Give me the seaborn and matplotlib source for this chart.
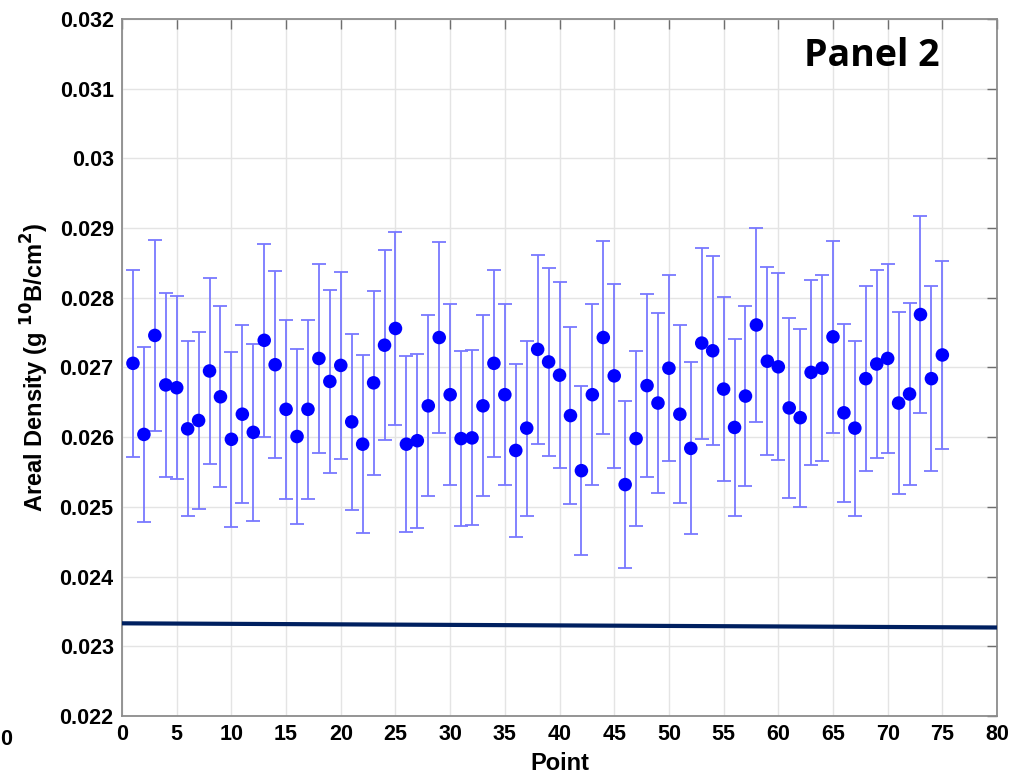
import numpy as np
import pandas as pd
import matplotlib
matplotlib.use("Agg")
import matplotlib.pyplot as plt
import seaborn as sns

# measured areal density per point (g 10B/cm^2) and half-width of error bars
point = np.arange(1, 76)
density = [
    0.02706, 0.02604, 0.02746, 0.02675, 0.02671, 0.02612, 0.02624, 0.02695, 0.02658, 0.02597,
    0.02633, 0.02607, 0.02739, 0.02704, 0.02640, 0.02601, 0.02640, 0.02713, 0.02680, 0.02703,
    0.02622, 0.02590, 0.02678, 0.02732, 0.02756, 0.02590, 0.02595, 0.02645, 0.02743, 0.02661,
    0.02598, 0.02599, 0.02645, 0.02706, 0.02661, 0.02581, 0.02613, 0.02726, 0.02708, 0.02689,
    0.02631, 0.02552, 0.02661, 0.02743, 0.02688, 0.02532, 0.02598, 0.02674, 0.02649, 0.02699,
    0.02633, 0.02584, 0.02735, 0.02724, 0.02669, 0.02614, 0.02659, 0.02761, 0.02709, 0.02701,
    0.02642, 0.02628, 0.02693, 0.02699, 0.02744, 0.02635, 0.02613, 0.02684, 0.02705, 0.02713,
    0.02649, 0.02662, 0.02776, 0.02684, 0.02718,
]
error = [
    0.001345, 0.001255, 0.001375, 0.00132, 0.00131, 0.001255, 0.00127, 0.00133, 0.0013, 0.001255,
    0.00128, 0.001265, 0.00138, 0.00134, 0.001285, 0.00125, 0.001285, 0.00136, 0.001315, 0.00134,
    0.001265, 0.001275, 0.00132, 0.00136, 0.001385, 0.00126, 0.00125, 0.0013, 0.001375, 0.0013,
    0.001255, 0.001255, 0.0013, 0.001345, 0.0013, 0.001235, 0.001255, 0.00136, 0.00135, 0.001335,
    0.001275, 0.001215, 0.0013, 0.00138, 0.001325, 0.001195, 0.00125, 0.00131, 0.001295, 0.001335,
    0.001275, 0.001235, 0.00137, 0.001355, 0.001315, 0.001265, 0.001295, 0.00139, 0.001345, 0.00134,
    0.001285, 0.001275, 0.00133, 0.001335, 0.001375, 0.001275, 0.001255, 0.001325, 0.001345, 0.001355,
    0.0013, 0.001305, 0.00141, 0.001325, 0.00135,
]
# reference (threshold) line
line_x = [0, 80]
line_y = [0.02333, 0.02327]

df = pd.DataFrame({"Point": point, "Density": density, "Error": error})
ref = pd.DataFrame({"Point": line_x, "Density": line_y})

sns.set_style("whitegrid")
plt.rcParams["font.family"] = ["Liberation Sans", "DejaVu Sans"]
plt.rcParams["text.color"] = "black"
plt.rcParams["xtick.labelcolor"] = "black"
plt.rcParams["ytick.labelcolor"] = "black"
plt.rcParams["axes.labelcolor"] = "black"

fig = plt.figure(figsize=(10.11, 7.84), dpi=100)
ax = fig.add_axes([0.1207, 0.0867, 0.8655, 0.8891])

ax.errorbar(df["Point"], df["Density"], yerr=df["Error"], fmt="none",
            ecolor="#7878ff", elinewidth=1.3, capsize=5.3, capthick=1.3, zorder=2)
sns.scatterplot(data=df, x="Point", y="Density", color="#0000ff", s=95,
                edgecolor="none", ax=ax, zorder=3)
sns.lineplot(data=ref, x="Point", y="Density", color="#002060", linewidth=3.0,
             ax=ax, zorder=4)

ax.set_xlim(0, 80)
ax.set_ylim(0.022, 0.032)
ax.set_xticks(np.arange(0, 81, 5))
ax.set_yticks(np.arange(0.022, 0.0325, 0.001))
ax.set_yticklabels(["0.022", "0.023", "0.024", "0.025", "0.026", "0.027",
                    "0.028", "0.029", "0.03", "0.031", "0.032"])
ax.grid(True, color="#e4e4e4", linewidth=1.0)
for s in ax.spines.values():
    s.set_color("#8c8c8c")
    s.set_linewidth(1.3)
ax.tick_params(direction="in", length=7, width=1.0, color="#6e6e6e",
               top=True, right=True, labelsize=15.5, pad=6)
for lab in ax.get_xticklabels() + ax.get_yticklabels():
    lab.set_fontweight("bold")

ax.set_xlabel("Point", fontsize=17, fontweight="bold", labelpad=5)
ax.set_ylabel("Areal Density (g $\\mathbf{^{10}}$B/cm$\\mathbf{^2}$)", fontsize=17,
              fontweight="bold", labelpad=6)

fig.text(0.8625, 0.929, "Panel 2", fontsize=27, fontweight="bold", color="black",
         family=["Open Sans", "DejaVu Sans"], ha="center", va="center")
fig.text(0.0, 0.057, "0", fontsize=15.5, fontweight="bold", ha="left", va="center")

fig.savefig("out.png", dpi=100)
